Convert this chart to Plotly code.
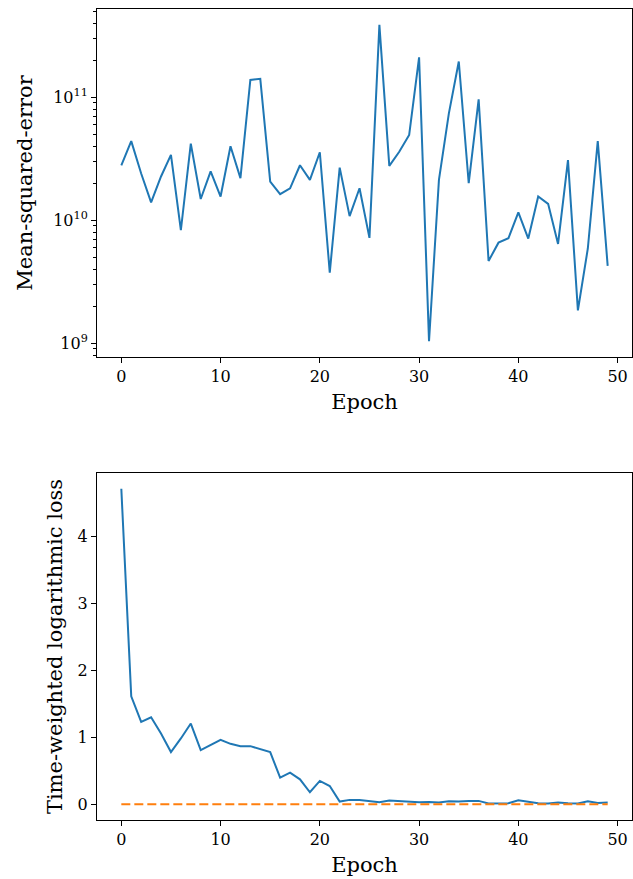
import plotly.graph_objects as go
from plotly.subplots import make_subplots

epochs = list(range(50))

mse = [2.8e10, 4.4e10, 2.4e10, 1.4e10, 2.27e10, 3.4e10, 8.3e9, 4.2e10, 1.49e10, 2.5e10,
       1.56e10, 4.0e10, 2.2e10, 1.38e11, 1.41e11, 2.06e10, 1.63e10, 1.82e10, 2.8e10, 2.13e10,
       3.57e10, 3.76e9, 2.68e10, 1.08e10, 1.82e10, 7.2e9, 3.87e11, 2.77e10, 3.6e10, 4.94e10,
       2.11e11, 1.04e9, 2.13e10, 7.4e10, 1.95e11, 2.0e10, 9.6e10, 4.67e9, 6.58e9, 7.14e9,
       1.16e10, 7.1e9, 1.56e10, 1.36e10, 6.43e9, 3.08e10, 1.85e9, 5.9e9, 4.4e10, 4.26e9]

twll = [4.72, 1.615, 1.232, 1.30, 1.058, 0.78, 0.984, 1.207, 0.81, 0.884,
        0.964, 0.904, 0.869, 0.869, 0.82, 0.78, 0.397, 0.472, 0.373, 0.179,
        0.348, 0.273, 0.04, 0.065, 0.065, 0.05, 0.03, 0.055, 0.045, 0.03,
        0.03, 0.035, 0.025, 0.045, 0.04, 0.05, 0.05, 0.01, 0.015, 0.015,
        0.06, 0.035, 0.015, 0.01, 0.025, 0.015, 0.01, 0.045, 0.02, 0.025]

baseline = [0.0] * 50

x_ticks = [0, 10, 20, 30, 40, 50]
log_tickvals = [1e9, 1e10, 1e11]
log_ticktext = ["10<sup>9</sup>", "10<sup>10</sup>", "10<sup>11</sup>"]
minor_vals = [k * 10 ** n for n in range(8, 12) for k in range(2, 10)]
lin_ticks = [0, 1, 2, 3, 4]

BLUE = "#1f77b4"
ORANGE = "#ff7f0e"
FONT = "DejaVu Serif"

fig = make_subplots(rows=2, cols=1)

fig.add_trace(go.Scatter(x=epochs, y=mse, mode="lines",
                         line=dict(color=BLUE, width=2), showlegend=False), row=1, col=1)
fig.add_trace(go.Scatter(x=epochs, y=twll, mode="lines",
                         line=dict(color=BLUE, width=2), showlegend=False), row=2, col=1)
fig.add_trace(go.Scatter(x=epochs, y=baseline, mode="lines",
                         line=dict(color=ORANGE, width=2, dash="9px,4px"), showlegend=False), row=2, col=1)

axis_common = dict(showgrid=False, zeroline=False, showline=True, linecolor="black",
                   linewidth=1, mirror=True, ticks="outside", ticklen=5, tickwidth=1,
                   tickcolor="black", tickfont=dict(family=FONT, size=16, color="black"))

fig.update_layout(
    width=633, height=879,
    margin=dict(l=97, r=1, t=9, b=59),
    plot_bgcolor="white", paper_bgcolor="white",
    font=dict(family=FONT, color="black"),
    xaxis=dict(domain=[0, 1], range=[-2.45, 51.45], tickmode="array", tickvals=x_ticks,
               title=dict(text="Epoch", font=dict(family=FONT, size=21, color="black"), standoff=9),
               **axis_common),
    yaxis=dict(domain=[0.5709, 1.0], type="log", range=[8.889, 11.717],
               tickmode="array", tickvals=log_tickvals, ticktext=log_ticktext,
               minor=dict(tickmode="array", tickvals=minor_vals, ticks="outside",
                          ticklen=3, tickwidth=1, tickcolor="black", showgrid=False),
               title=dict(text="Mean-squared-error", font=dict(family=FONT, size=21, color="black"), standoff=14),
               **axis_common),
    xaxis2=dict(domain=[0, 1], range=[-2.45, 51.45], tickmode="array", tickvals=x_ticks,
                title=dict(text="Epoch", font=dict(family=FONT, size=21, color="black"), standoff=9),
                **axis_common),
    yaxis2=dict(domain=[0.0, 0.4279], range=[-0.236, 4.956], tickmode="array", tickvals=lin_ticks,
                title=dict(text="Time-weighted logarithmic loss", font=dict(family=FONT, size=21, color="black"), standoff=9),
                **axis_common),
)

fig.write_html("out.html")
